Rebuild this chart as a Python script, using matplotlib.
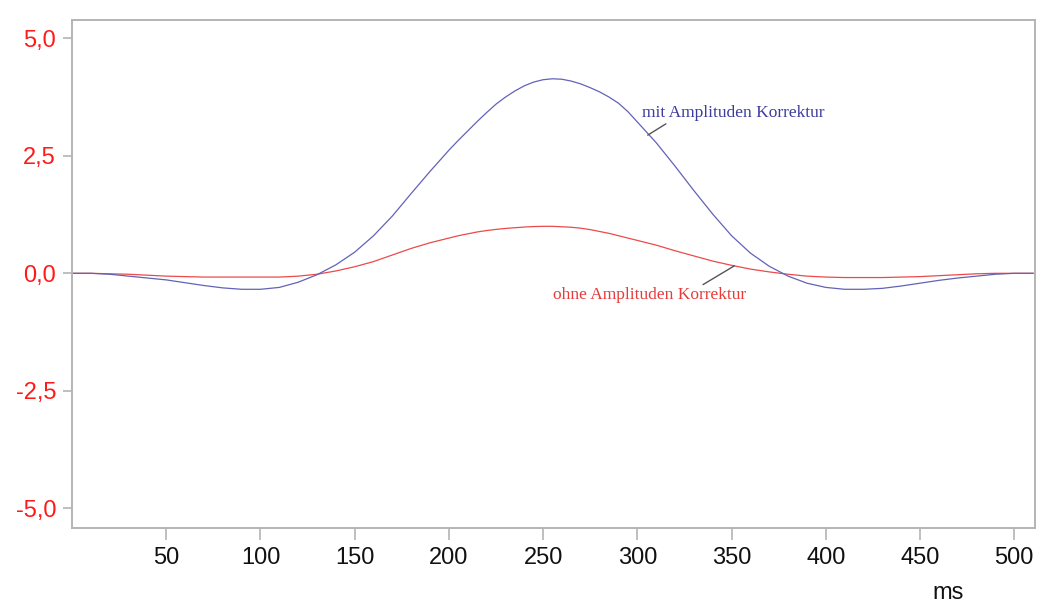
import matplotlib
matplotlib.use("Agg")
import matplotlib.pyplot as plt

# time axis in ms (10 ms steps, 5 ms around the peak)
t_ms = [0, 10, 20, 30, 40, 50, 60, 70, 80, 90,
        100, 110, 120, 130, 140, 150, 160, 170, 180, 190,
        200, 205, 210, 215, 220, 225, 230, 235, 240, 245,
        250, 255, 260, 265, 270, 275, 280, 285, 290, 295,
        300, 305, 310, 320, 330, 340, 350, 360, 370, 380,
        390, 400, 410, 420, 430, 440, 450, 460, 470, 480,
        490, 500, 510]

# mit Amplituden Korrektur (blue)
mit_korr = [0.0, 0.0, -0.02, -0.06, -0.10, -0.14, -0.20, -0.26, -0.31, -0.34,
            -0.34, -0.30, -0.19, -0.03, 0.18, 0.45, 0.80, 1.22, 1.70, 2.17,
            2.62, 2.83, 3.03, 3.23, 3.42, 3.60, 3.75, 3.88, 3.99, 4.07,
            4.12, 4.14, 4.13, 4.09, 4.03, 3.95, 3.86, 3.75, 3.62, 3.44,
            3.22, 3.00, 2.78, 2.28, 1.76, 1.26, 0.80, 0.43, 0.15, -0.06,
            -0.21, -0.30, -0.34, -0.34, -0.32, -0.27, -0.21, -0.15, -0.10, -0.06,
            -0.02, 0.0, 0.0]

# ohne Amplituden Korrektur (red)
ohne_korr = [0.0, 0.0, -0.01, -0.02, -0.04, -0.06, -0.07, -0.08, -0.08, -0.08,
             -0.08, -0.08, -0.06, -0.02, 0.05, 0.14, 0.25, 0.39, 0.53, 0.65,
             0.75, 0.80, 0.84, 0.88, 0.91, 0.935, 0.955, 0.97, 0.985, 0.995,
             1.00, 1.00, 0.99, 0.98, 0.96, 0.93, 0.89, 0.85, 0.80, 0.75,
             0.70, 0.65, 0.60, 0.48, 0.37, 0.26, 0.17, 0.09, 0.03, -0.02,
             -0.06, -0.08, -0.09, -0.09, -0.09, -0.08, -0.07, -0.05, -0.03, -0.01,
             0.0, 0.0, 0.0]

x_ticks = [50, 100, 150, 200, 250, 300, 350, 400, 450, 500]
y_ticks = [-5.0, -2.5, 0.0, 2.5, 5.0]
y_tick_labels = ["-5,0", "-2,5", "0,0", "2,5", "5,0"]

spine_grey = "#b4b4b4"

fig = plt.figure(figsize=(10.41, 6.10), dpi=100)
ax = fig.add_axes([0.0692, 0.1344, 0.925, 0.832])

ax.plot(t_ms, ohne_korr, color="#ec4a4a", lw=0.9)
ax.plot(t_ms, mit_korr, color="#6262b8", lw=0.9)

ax.set_xlim(0, 511)
ax.set_ylim(-5.42, 5.38)

ax.set_xticks(x_ticks)
ax.set_xticklabels([str(v) for v in x_ticks], fontsize=17, family="Liberation Sans", color="#111111")
ax.set_yticks(y_ticks)
ax.set_yticklabels(y_tick_labels, fontsize=17, family="Liberation Sans", color="#ff1a1a")

ax.tick_params(axis="x", length=8.5, width=1.2, color=spine_grey, pad=5)
ax.tick_params(axis="y", length=6.5, width=1.2, color=spine_grey, pad=5)
for s in ax.spines.values():
    s.set_color(spine_grey)
    s.set_linewidth(1.4)

# labels with leader lines
ax.annotate("mit Amplituden Korrektur", xy=(305.5, 2.94), xytext=(302.5, 3.41),
            fontsize=12.5, family="Liberation Serif", color="#3c3c9c",
            ha="left", va="center",
            arrowprops=dict(arrowstyle="-", color="#555555", lw=1.0,
                            shrinkA=0, shrinkB=0, relpos=(0.155, 0.0)))
ax.annotate("ohne Amplituden Korrektur", xy=(351.5, 0.16), xytext=(255, -0.47),
            fontsize=12.5, family="Liberation Serif", color="#e83a3a",
            ha="left", va="center",
            arrowprops=dict(arrowstyle="-", color="#555555", lw=1.0,
                            shrinkA=0, shrinkB=0, relpos=(0.755, 1.0)))

fig.text(948 / 1041, 1 - 593 / 610, "ms", fontsize=17, family="Liberation Sans",
         color="#111111", ha="center", va="center")

fig.savefig("out.png", dpi=100)
